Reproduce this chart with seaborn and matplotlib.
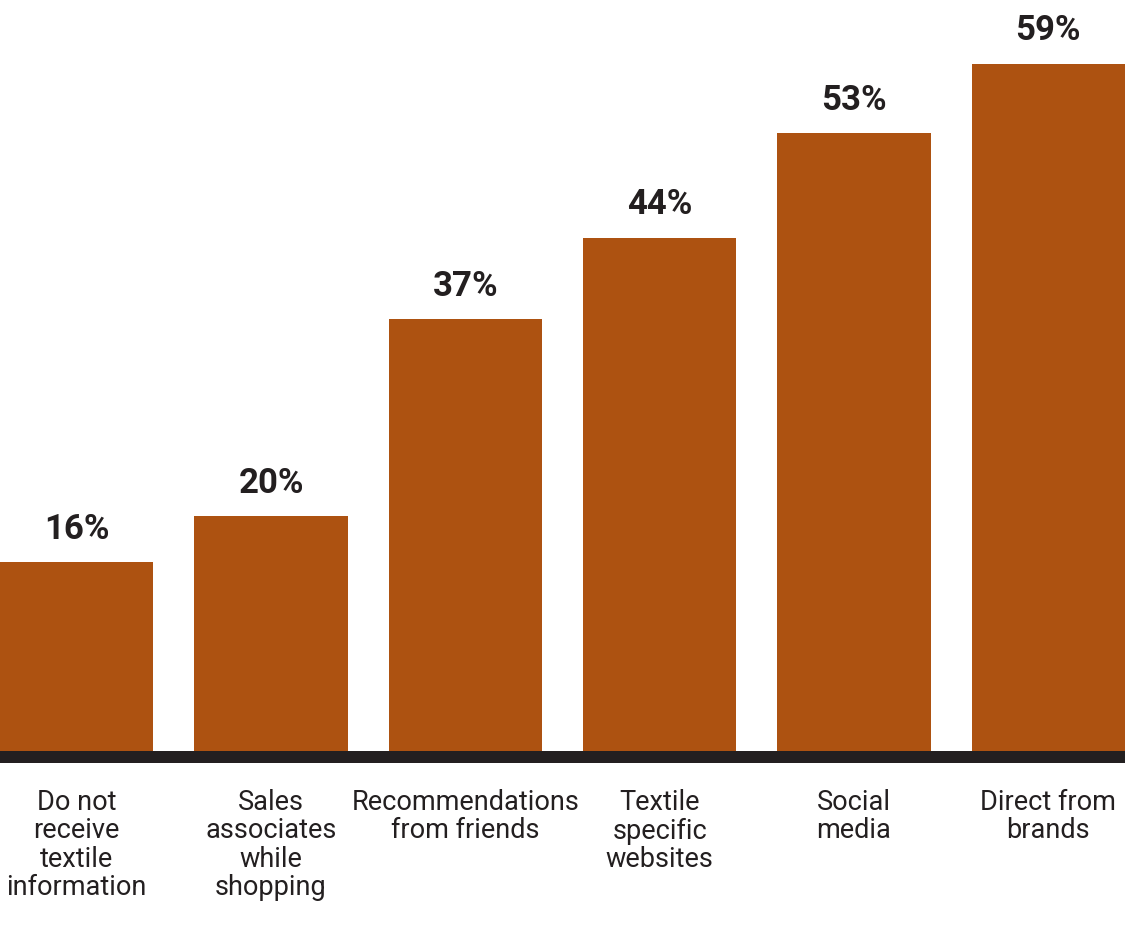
import seaborn as sns
import pandas as pd
import matplotlib.pyplot as plt

# survey data
categories = ['Do not\nreceive\ntextile\ninformation',
              'Sales\nassociates\nwhile\nshopping',
              'Recommendations\nfrom friends',
              'Textile\nspecific\nwebsites',
              'Social\nmedia',
              'Direct from\nbrands']
values = [16, 20, 37, 44, 53, 59]

BAR = '#ad5211'
INK = '#231f20'

sns.set_theme(style='white')
plt.rcParams['font.family'] = ['Roboto', 'DejaVu Sans']

df = pd.DataFrame({'source': categories, 'share': values})

fig = plt.figure(figsize=(11.25, 9.25), dpi=100)
ax = fig.add_axes([0, 0.1751, 1, 0.8249])

sns.barplot(data=df, x='source', y='share', color=BAR, saturation=1,
            width=0.79, ax=ax, zorder=2)

# let the bars run down into the baseline band
for p in ax.patches:
    p.set_y(-0.95)
    p.set_height(p.get_height() + 0.95)
    p.set_linewidth(0)

# value labels above bars
for i, v in enumerate(values):
    ax.text(i, v + 2.0, '%d%%' % v, ha='center', va='baseline',
            fontsize=25, fontweight='bold', color=INK)

# dark baseline band
ax.axhspan(-1.3, -0.26, color=INK, zorder=3, lw=0)

ax.set_xlim(-0.395, 5.395)
ax.set_ylim(-1.293, 64.48)
ax.set_xlabel('')
ax.set_ylabel('')
ax.set_yticks([])
ax.tick_params(axis='x', length=0, pad=19, labelsize=19.5, labelcolor=INK)
for t in ax.get_xticklabels():
    t.set_linespacing(1.05)
sns.despine(left=True, bottom=True)

plt.savefig('out.png', dpi=100)
